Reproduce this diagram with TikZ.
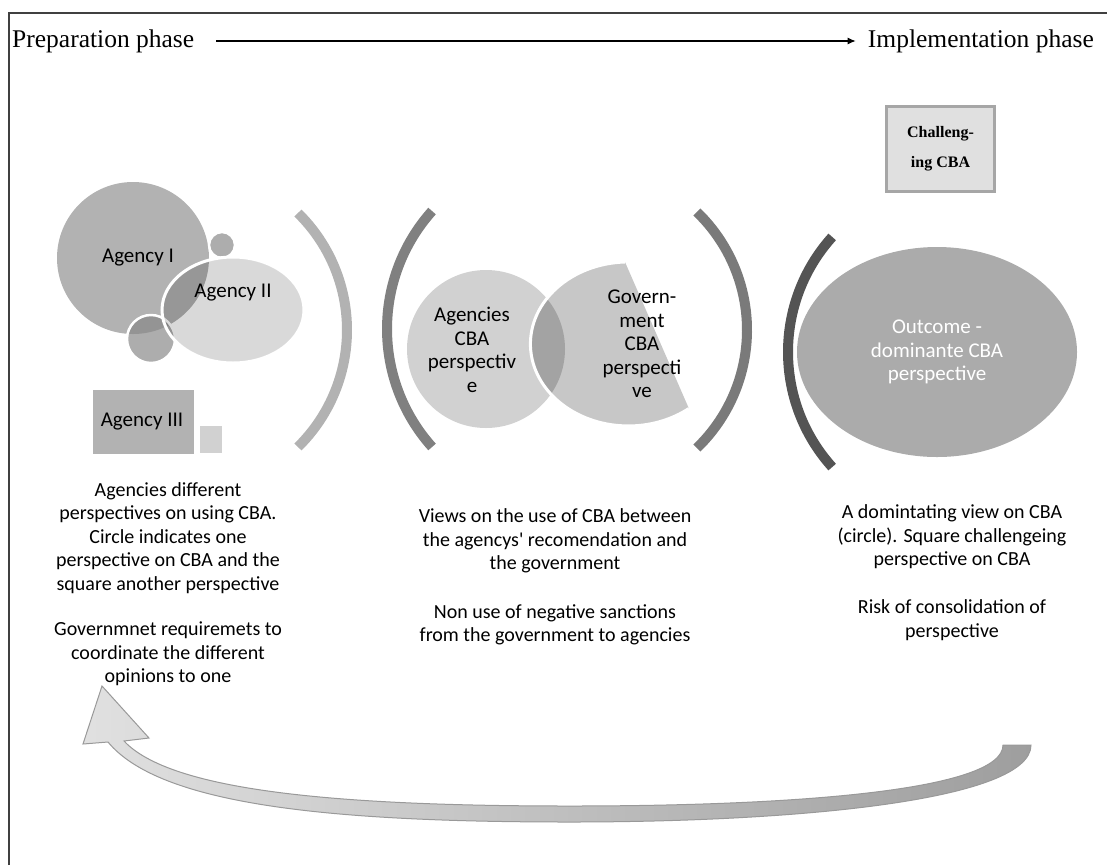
\documentclass[tikz,border=0pt]{standalone}
\usepackage{fontspec}
\setmainfont{Liberation Serif}
\newfontfamily\calibri{Carlito}
\usetikzlibrary{arrows.meta,shapes.geometric}

\begin{document}
\begin{tikzpicture}[x=1pt,y=-1pt,
        phase/.style={font=\fontsize{25.5}{28}\selectfont, inner sep=0},
        caption/.style={font=\calibri\fontsize{20}{23.5}\selectfont, align=center, inner sep=0},
        shapetext/.style={font=\calibri\fontsize{21}{23.5}\selectfont, align=center, inner sep=0},
        bracket/.style={line width=10}]
        \useasboundingbox (0,0) rectangle (1107,865);
        \draw[black!75, line width=1.5] (9,865) -- (9,13) -- (1107,13);
        % phases
        \node[phase, anchor=west] (prep) at (12,41) {Preparation phase};
        \node[phase, anchor=east] (impl) at (1094,41) {Implementation phase};
        \draw[-{Latex[length=8,width=7]}, line width=1.2, shorten <=22, shorten >=12] (prep) -- (impl);
        % brackets
        \foreach \cx/\cy/\r/\s/\e/\g in {183/330/164/-45.5/45.5/30, 564/329/177/138.2/221.8/50, 583/330/164/-46/46/52, 960/352/172/138/222/67}{
        \draw[bracket, black!\g] (\cx,\cy) ++(\s:\r) arc[start angle=\s, end angle=\e, radius=\r];}
        % agencies
        \fill[black!30] (133,258) circle[radius=76];
        \foreach \x/\y/\r in {222/245/13, 151/339/24}{
        \fill[black!32] (\x,\y) circle[radius=\r];
        \begin{scope}
        \clip (\x,\y) circle[radius=\r];
        \fill[black!42] (133,258) circle[radius=76];
        \end{scope}
        \draw[white, line width=2.5] (\x,\y) circle[radius=\r];}
        \filldraw[fill=black, fill opacity=0.15, draw=white, line width=3] (233,310) ellipse[x radius=71, y radius=53];
        \fill[black!30] (93,390) rectangle (194,454);
        \fill[black!18] (200,426) rectangle (222,453);
        \node[shapetext] (agency1) at (138,258) {Agency I};
        \node[shapetext] (agency2) at (233,293) {Agency II};
        \node[shapetext] (agency3) at (142,422) {Agency III};
        % views
        \fill[black!18] (486,349) circle[radius=79];
        \fill[black, fill opacity=0.22] (625,262) arc[start angle=268, end angle=51.9, x radius=98, y radius=82] -- cycle;
        \draw[white, line width=3] (625,262) arc[start angle=268, end angle=51.9, x radius=98, y radius=82];
        \node[shapetext] (agencyview) at (472,350) {Agencies\\CBA\\perspectiv\\e};
        \node[shapetext] (govview) at (642,344) {Govern-\\ment\\CBA\\perspecti\\ve};
        % outcome
        \node[ellipse, fill=black!33, minimum width=280, minimum height=210, inner sep=0] (outcome) at (937,352) {};
        \node[shapetext, text=white] (outcometext) at (outcome) {Outcome -\\dominante CBA\\perspective};
        \node[draw=black!35, line width=3, fill=black!12, minimum width=108, minimum height=85, align=center,
        font=\bfseries\fontsize{16}{30}\selectfont] (challenge) at (940.5,148.5) {Challeng-\\ing CBA};
        % captions
        \node[caption] (leftcap) at (168,538) {Agencies different\\perspectives on using CBA.\\Circle indicates one\\perspective on CBA and the\\square another perspective};
        \node[caption] (leftreq) at (168,654) {Governmnet requiremets to\\coordinate the different\\opinions to one};
        \node[caption] (midcap) at (555,541) {Views on the use of CBA between\\the agencys' recomendation and\\the government};
        \node[caption] (midsanc) at (555,625) {Non use of negative sanctions\\from the government to agencies};
        \node[caption] (rightcap) at (952,537) {A domintating view on CBA\\(circle). Square challengeing\\perspective on CBA};
        \node[caption] (rightrisk) at (952,620) {Risk of consolidation of\\perspective};
        % feedback arrow
        \shade[left color=black!12, right color=black!38, draw=black!40, line width=1]
        (1003,745) .. controls (1003,790) and (800,806) .. (570,806)
        .. controls (330,806) and (170,790) .. (124,741)
        -- (149,738) -- (102,686) -- (83,744) -- (108,742)
        .. controls (160,805) and (330,822) .. (570,822)
        .. controls (800,822) and (1031,800) .. (1031,745) -- cycle;
    \end{tikzpicture}
\end{document}
